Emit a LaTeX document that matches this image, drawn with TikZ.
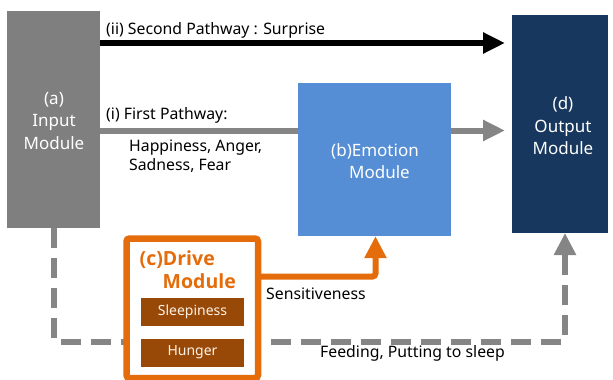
\documentclass[tikz,border=0pt]{standalone}
\usepackage{fontspec}
\setmainfont{Noto Sans}
\newfontfamily\drivefont{Open Sans}
\usetikzlibrary{arrows.meta}
\definecolor{ingray}{HTML}{7F7F7F}
\definecolor{emoblue}{HTML}{558ED5}
\definecolor{outnavy}{HTML}{17375E}
\definecolor{drvorange}{HTML}{E46C0A}
\definecolor{drvbrown}{HTML}{984807}
\definecolor{pathgray}{HTML}{858585}
\tikzset{
  module/.style={draw=none, inner sep=0pt, align=center, text=white, font=\fontsize{17}{22.5}\selectfont},
  lbl/.style={inner sep=0pt, anchor=west, font=\fontsize{15.8}{19}\selectfont},
  subbox/.style={fill=drvbrown, inner sep=0pt, minimum width=103pt, minimum height=28pt, text=white!90!orange, font=\fontsize{14}{16}\selectfont},
  drvtitle/.style={inner sep=0pt, anchor=base west, text=drvorange, font=\drivefont\bfseries\fontsize{19.5}{23}\selectfont},
  bigtip/.style={-{Triangle[length=22pt,width=20pt]}},
}
\begin{document}
\begin{tikzpicture}[x=1pt,y=-1pt]
\useasboundingbox (0,0) rectangle (613,380);
% modules
\node[module, fill=ingray, minimum width=93pt, minimum height=217pt] (in) at (53.5,119.5) {};
\node[module, fill=emoblue, minimum width=153pt, minimum height=153pt] (emo) at (374.5,159.5) {};
\node[module, fill=outnavy, minimum width=96pt, minimum height=218pt] (out) at (560,124) {};
\node[module] (intext) at (54,121) {(a)\\Input\\Module};
\node[module] (emotext) at (375,161) {(b)Emotion\\\ \ Module};
\node[module] (outtext) at (563,126) {(d)\\Output\\Module};
% second pathway
\coordinate (p2s) at (100,43);
\coordinate (p2e) at (505,43);
\draw[line width=6.5pt, black, bigtip] (p2s) -- (p2e);
\node[lbl] (p2lbl) at (106,30) {(ii) Second Pathway : Surprise};
% first pathway
\coordinate (p1s) at (100,130.5);
\coordinate (p1a) at (298,130.5);
\coordinate (p1b) at (451,130.5);
\coordinate (p1e) at (505,130.5);
\draw[line width=6pt, pathgray] (p1s) -- (p1a);
\draw[line width=6pt, pathgray, bigtip] (p1b) -- (p1e);
\node[lbl] (p1lbl) at (106,115) {(i) First Pathway:};
\node[lbl, align=left] (p1emo) at (129,156.5) {Happiness, Anger,\\Sadness, Fear};
% dashed drive path from input to output
\coordinate (dA) at (54,228);
\coordinate (dB) at (54,342);
\coordinate (dC) at (565,342);
\coordinate (dD) at (565,233);
\draw[line width=6pt, pathgray, dash pattern=on 20pt off 10pt, rounded corners=2pt,
  -{Triangle[length=22pt,width=21pt]}] (dA) -- (dB) -- (dC) -- (dD);
\node[lbl] (feedlbl) at (320,353) {Feeding, Putting to sleep};
% drive module
\draw[drvorange, line width=6.5pt, fill=white, rounded corners=3pt] (126.5,238.5) rectangle (258,378) ;
\node[drvtitle] (drvtitle1) at (139.5,265) {(c)Drive};
\node[drvtitle] (drvtitle2) at (162.5,288) {Module};
\node[subbox] (sleep) at (192.5,312) {Sleepiness};
\node[subbox] (hunger) at (192.5,352.5) {Hunger};
% sensitiveness arrow
\coordinate (sA) at (261,276.5);
\coordinate (sB) at (375.5,276.5);
\draw[drvorange, line width=6pt, rounded corners=3pt, -{Triangle[length=22pt,width=21pt]}] (sA) -- (sB) -- (emo.south -| sB);
\node[lbl] (senslbl) at (266,294) {Sensitiveness};
\end{tikzpicture}
\end{document}
